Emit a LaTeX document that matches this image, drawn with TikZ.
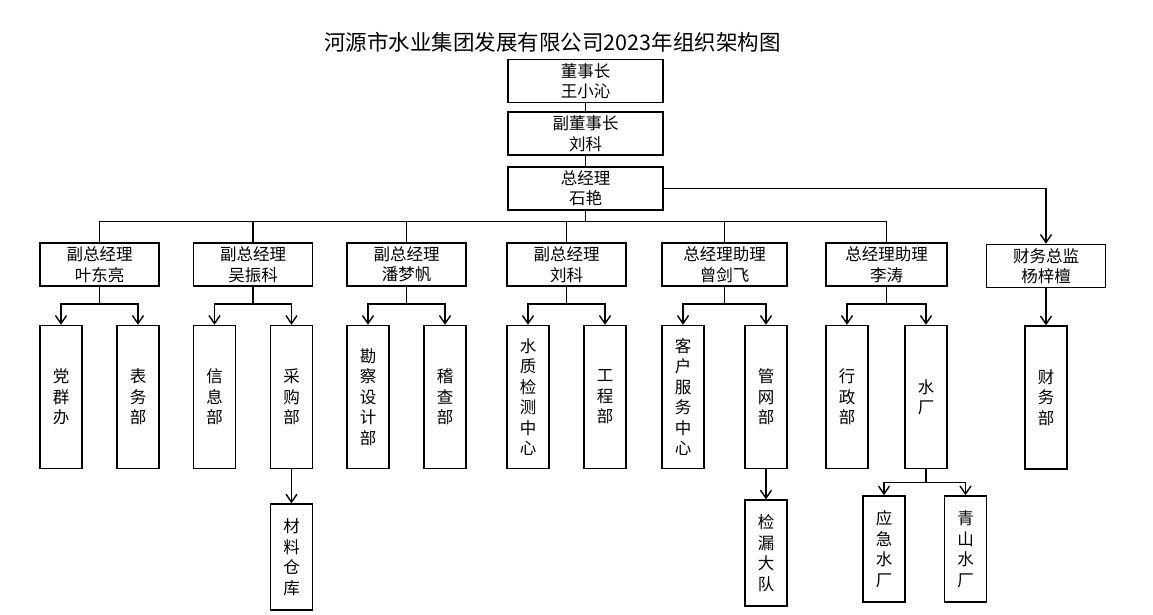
\documentclass[tikz,border=0pt]{standalone}
\usepackage{fontspec}
\setmainfont{Noto Sans CJK SC}
\usetikzlibrary{positioning, arrows.meta}

\begin{document}
\begin{tikzpicture}[x=1pt, y=-1pt,
    box/.style={
        rectangle, draw=black, line width=1.6pt, fill=white,
        minimum width=119pt, minimum height=43pt, inner sep=2pt,
        align=center, font=\fontsize{16.5}{20.5}\selectfont},
    topbox/.style={box, minimum width=155pt},
    vbox/.style={box, minimum width=42pt, minimum height=143pt},
    lowbox/.style={vbox, minimum height=106pt},
    link/.style={line width=1.4pt},
    arr/.style={-{Straight Barb[length=8pt, width=11pt]}, line width=1.4pt},
    titlefont/.style={font=\fontsize{21.5}{26}\selectfont}]
  \useasboundingbox (0,0) rectangle (1153,615);
  % Titulo y direccion
  \node[titlefont] (titulo) at (552.5,42) {河源市水业集团发展有限公司2023年组织架构图};
  \node[topbox] (dsz) at (585.5,81) {董事长\\王小沁};
  \node[topbox, below=8pt of dsz]  (fdsz) {副董事长\\刘科};
  \node[topbox, below=10pt of fdsz] (zjl) {总经理\\石艳};
  \draw[link] (dsz) -- (fdsz);
  \draw[link] (fdsz) -- (zjl);
  % Segundo nivel
  \node[box] (fz1) at (99.5,264.5)  {副总经理\\叶东亮};
  \node[box] (fz2) at (253,264.5)   {副总经理\\吴振科};
  \node[box] (fz3) at (406.5,264.5) {副总经理\\潘梦帆};
  \node[box] (fz4) at (566.5,264.5) {副总经理\\刘科};
  \node[box, minimum width=125pt] (zl1) at (724.5,264.5) {总经理助理\\曾剑飞};
  \node[box, minimum width=121pt] (zl2) at (886.5,264.5) {总经理助理\\李涛};
  \node[box] (cwzj) at (1046,266) {财务总监\\杨梓檀};
  \draw[link] (zjl.south) -- ++(0,11) coordinate (bus);
  \foreach \n in {fz1,fz2,fz3,fz4,zl1,zl2}
    \draw[link] (bus) -| (\n.north);
  \draw[arr] (zjl.east) -| (cwzj.north);
  % Departamentos
  \node[vbox, below=38pt of fz1.south west, anchor=north west] (dqb) {党\\群\\办};
  \node[vbox, below=38pt of fz1.south east, anchor=north east] (bwb) {表\\务\\部};
  \node[vbox, below=38pt of fz2.south west, anchor=north west] (xxb) {信\\息\\部};
  \node[vbox, below=38pt of fz2.south east, anchor=north east] (cgb) {采\\购\\部};
  \node[vbox, below=38pt of fz3.south west, anchor=north west] (kcsj) {勘\\察\\设\\计\\部};
  \node[vbox, below=38pt of fz3.south east, anchor=north east] (jcb) {稽\\查\\部};
  \node[vbox, below=38pt of fz4.south west, anchor=north west] (szjc) {水\\质\\检\\测\\中\\心};
  \node[vbox, below=38pt of fz4.south east, anchor=north east] (gcb) {工\\程\\部};
  \node[vbox, below=38pt of zl1.south west, anchor=north west] (khfw) {客\\户\\服\\务\\中\\心};
  \node[vbox, below=38pt of zl1.south east, anchor=north east] (gwb) {管\\网\\部};
  \node[vbox, below=38pt of zl2.south west, anchor=north west] (xzb) {行\\政\\部};
  \node[vbox, below=38pt of zl2.south east, anchor=north east] (sc) {水\\厂};
  \node[vbox, below=37pt of cwzj] (cwb) {财\\务\\部};
  \foreach \p/\a/\b in {fz1/dqb/bwb, fz2/xxb/cgb, fz3/kcsj/jcb,
                        fz4/szjc/gcb, zl1/khfw/gwb, zl2/xzb/sc} {
    \draw[arr] (\p.south) -- ++(0,17) -| (\a.north);
    \draw[arr] (\p.south) -- ++(0,17) -| (\b.north);
  }
  \draw[arr] (cwzj) -- (cwb);
  % Cuarto nivel
  \node[lowbox, below=34pt of cgb] (clck) {材\\料\\仓\\库};
  \node[lowbox, below=30pt of gwb] (jldd) {检\\漏\\大\\队};
  \node[lowbox] (yjsc) at (884,549)   {应\\急\\水\\厂};
  \node[lowbox] (qssc) at (965.5,549) {青\\山\\水\\厂};
  \draw[arr] (cgb) -- (clck);
  \draw[arr] (gwb) -- (jldd);
  \draw[arr] (sc.south) -- ++(0,13) -| (yjsc.north);
  \draw[arr] (sc.south) -- ++(0,13) -| (qssc.north);
\end{tikzpicture}
\end{document}
